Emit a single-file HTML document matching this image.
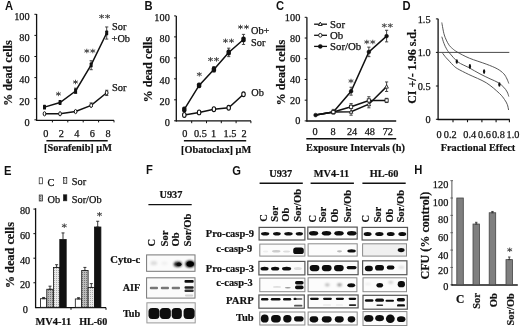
<!DOCTYPE html>
<html><head><meta charset="utf-8"><style>
html,body{margin:0;padding:0;background:#fff;width:520px;height:329px;overflow:hidden}
svg{display:block;will-change:transform}
</style></head><body>
<svg width="520" height="329" viewBox="0 0 520 329">
<rect width="520" height="329" fill="#fff"/>
<text x="5" y="9.6" style='font-family:"Liberation Sans", sans-serif' font-size="11.2" font-weight="bold" text-anchor="start" fill="#111" transform="matrix(1 0 0 1.06 0 -0.576)">A</text>
<line x1="36.6" y1="14" x2="36.6" y2="120.90" stroke="#111" stroke-width="1.3"/>
<line x1="34.4" y1="14.30" x2="36.6" y2="14.30" stroke="#111" stroke-width="1.0"/>
<text x="29.6" y="20.10" style='font-family:"Liberation Serif", serif' font-size="10.3" text-anchor="end" fill="#111" stroke="#111" stroke-width="0.25">100</text>
<line x1="34.4" y1="35.40" x2="36.6" y2="35.40" stroke="#111" stroke-width="1.0"/>
<text x="29.6" y="41.2" style='font-family:"Liberation Serif", serif' font-size="10.3" text-anchor="end" fill="#111" stroke="#111" stroke-width="0.25">80</text>
<line x1="34.4" y1="56.5" x2="36.6" y2="56.5" stroke="#111" stroke-width="1.0"/>
<text x="29.6" y="62.3" style='font-family:"Liberation Serif", serif' font-size="10.3" text-anchor="end" fill="#111" stroke="#111" stroke-width="0.25">60</text>
<line x1="34.4" y1="77.6" x2="36.6" y2="77.6" stroke="#111" stroke-width="1.0"/>
<text x="29.6" y="83.40" style='font-family:"Liberation Serif", serif' font-size="10.3" text-anchor="end" fill="#111" stroke="#111" stroke-width="0.25">40</text>
<line x1="34.4" y1="98.7" x2="36.6" y2="98.7" stroke="#111" stroke-width="1.0"/>
<text x="29.6" y="104.5" style='font-family:"Liberation Serif", serif' font-size="10.3" text-anchor="end" fill="#111" stroke="#111" stroke-width="0.25">20</text>
<line x1="34.4" y1="119.8" x2="36.6" y2="119.8" stroke="#111" stroke-width="1.0"/>
<text x="29.6" y="125.6" style='font-family:"Liberation Serif", serif' font-size="10.3" text-anchor="end" fill="#111" stroke="#111" stroke-width="0.25">0</text>
<line x1="36" y1="120.3" x2="114" y2="120.3" stroke="#111" stroke-width="1.3"/>
<line x1="52.4" y1="120.3" x2="52.4" y2="122.4" stroke="#111" stroke-width="1.0"/>
<line x1="67.8" y1="120.3" x2="67.8" y2="122.4" stroke="#111" stroke-width="1.0"/>
<line x1="83.2" y1="120.3" x2="83.2" y2="122.4" stroke="#111" stroke-width="1.0"/>
<line x1="98.6" y1="120.3" x2="98.6" y2="122.4" stroke="#111" stroke-width="1.0"/>
<line x1="114" y1="120.3" x2="114" y2="122.4" stroke="#111" stroke-width="1.0"/>
<text x="45.8" y="136.8" style='font-family:"Liberation Serif", serif' font-size="10.3" text-anchor="middle" fill="#111" stroke="#111" stroke-width="0.25">0</text>
<text x="61.35" y="136.8" style='font-family:"Liberation Serif", serif' font-size="10.3" text-anchor="middle" fill="#111" stroke="#111" stroke-width="0.25">2</text>
<text x="76.90" y="136.8" style='font-family:"Liberation Serif", serif' font-size="10.3" text-anchor="middle" fill="#111" stroke="#111" stroke-width="0.25">4</text>
<text x="92.45" y="136.8" style='font-family:"Liberation Serif", serif' font-size="10.3" text-anchor="middle" fill="#111" stroke="#111" stroke-width="0.25">6</text>
<text x="108.0" y="136.8" style='font-family:"Liberation Serif", serif' font-size="10.3" text-anchor="middle" fill="#111" stroke="#111" stroke-width="0.25">8</text>
<line x1="46.4" y1="140.8" x2="107.7" y2="140.8" stroke="#111" stroke-width="1.5"/>
<text x="78.0" y="150.9" style='font-family:"Liberation Serif", serif' font-size="10.3" font-weight="bold" text-anchor="middle" fill="#111" stroke="#111" stroke-width="0.2" transform="matrix(1 0 0 1.06 0 -9.054)">[Sorafenib] μM</text>
<text x="11.6" y="73.2" style='font-family:"Liberation Serif", serif' font-size="12.2" font-weight="bold" text-anchor="middle" fill="#111" stroke="#111" stroke-width="0.2" transform="rotate(-90 11.6 73.2)">% dead cells</text>
<polyline points="44.50,113.79 60.05,113.79 75.60,111.57 91.15,105.45 106.70,92.79" fill="none" stroke="#111" stroke-width="1.5"/>
<polyline points="44.50,107.14 60.05,102.50 75.60,91.00 91.15,64.94 106.70,32.97" fill="none" stroke="#111" stroke-width="1.5"/>
<line x1="106.7" y1="26.96" x2="106.7" y2="39.09" stroke="#333" stroke-width="0.9"/>
<line x1="105.10" y1="26.96" x2="108.3" y2="26.96" stroke="#333" stroke-width="0.9"/>
<line x1="105.10" y1="39.09" x2="108.3" y2="39.09" stroke="#333" stroke-width="0.9"/>
<line x1="91.15" y1="60.72" x2="91.15" y2="69.69" stroke="#333" stroke-width="0.9"/>
<line x1="89.55" y1="60.72" x2="92.75" y2="60.72" stroke="#333" stroke-width="0.9"/>
<line x1="89.55" y1="69.69" x2="92.75" y2="69.69" stroke="#333" stroke-width="0.9"/>
<line x1="75.6" y1="88.15" x2="75.6" y2="93.425" stroke="#333" stroke-width="0.9"/>
<line x1="74.0" y1="88.15" x2="77.20" y2="88.15" stroke="#333" stroke-width="0.9"/>
<line x1="74.0" y1="93.425" x2="77.20" y2="93.425" stroke="#333" stroke-width="0.9"/>
<line x1="106.7" y1="90.26" x2="106.7" y2="95.535" stroke="#333" stroke-width="0.9"/>
<line x1="105.10" y1="90.26" x2="108.3" y2="90.26" stroke="#333" stroke-width="0.9"/>
<line x1="105.10" y1="95.535" x2="108.3" y2="95.535" stroke="#333" stroke-width="0.9"/>
<line x1="91.15" y1="102.92" x2="91.15" y2="106.085" stroke="#333" stroke-width="0.9"/>
<line x1="89.55" y1="102.92" x2="92.75" y2="102.92" stroke="#333" stroke-width="0.9"/>
<line x1="89.55" y1="106.085" x2="92.75" y2="106.085" stroke="#333" stroke-width="0.9"/>
<rect x="43.00" y="104.74" width="3.0" height="4.8" rx="0.6" fill="#111"/>
<rect x="58.55" y="100.10" width="3.0" height="4.8" rx="0.6" fill="#111"/>
<rect x="74.10" y="88.60" width="3.0" height="4.8" rx="0.6" fill="#111"/>
<rect x="89.65" y="62.54" width="3.0" height="4.8" rx="0.6" fill="#111"/>
<rect x="105.20" y="30.57" width="3.0" height="4.8" rx="0.6" fill="#111"/>
<ellipse cx="44.50" cy="113.79" rx="1.35" ry="2.1" fill="#fff" stroke="#111" stroke-width="1.0"/>
<ellipse cx="60.05" cy="113.79" rx="1.35" ry="2.1" fill="#fff" stroke="#111" stroke-width="1.0"/>
<ellipse cx="75.60" cy="111.57" rx="1.35" ry="2.1" fill="#fff" stroke="#111" stroke-width="1.0"/>
<ellipse cx="91.15" cy="105.45" rx="1.35" ry="2.1" fill="#fff" stroke="#111" stroke-width="1.0"/>
<ellipse cx="106.70" cy="92.79" rx="1.35" ry="2.1" fill="#fff" stroke="#111" stroke-width="1.0"/>
<path d="M58.40,91.65L58.40,96.15M56.00,92.78L60.80,95.02M60.80,92.78L56.00,95.02" stroke="#444" stroke-width="0.95" fill="none"/>
<path d="M75.50,79.75L75.50,84.25M73.10,80.88L77.90,83.12M77.90,80.88L73.10,83.12" stroke="#444" stroke-width="0.95" fill="none"/>
<path d="M86.80,48.75L86.80,53.25M84.40,49.88L89.20,52.12M89.20,49.88L84.40,52.12" stroke="#444" stroke-width="0.95" fill="none"/>
<path d="M92.80,48.75L92.80,53.25M90.40,49.88L95.20,52.12M95.20,49.88L90.40,52.12" stroke="#444" stroke-width="0.95" fill="none"/>
<path d="M101.60,14.25L101.60,18.75M99.20,15.38L104.00,17.62M104.00,15.38L99.20,17.62" stroke="#444" stroke-width="0.95" fill="none"/>
<path d="M107.60,14.25L107.60,18.75M105.20,15.38L110.00,17.62M110.00,15.38L105.20,17.62" stroke="#444" stroke-width="0.95" fill="none"/>
<text x="112" y="29.5" style='font-family:"Liberation Serif", serif' font-size="10.3" text-anchor="start" fill="#111" stroke="#111" stroke-width="0.25">Sor</text>
<text x="111.6" y="41.6" style='font-family:"Liberation Serif", serif' font-size="10.3" text-anchor="start" fill="#111" stroke="#111" stroke-width="0.25">+Ob</text>
<text x="112.0" y="90.5" style='font-family:"Liberation Serif", serif' font-size="10.5" text-anchor="start" fill="#111" stroke="#111" stroke-width="0.25">Sor</text>
<text x="144.5" y="9.6" style='font-family:"Liberation Sans", sans-serif' font-size="11.2" font-weight="bold" text-anchor="start" fill="#111" transform="matrix(1 0 0 1.06 0 -0.576)">B</text>
<line x1="176.3" y1="15.9" x2="176.3" y2="121.40" stroke="#111" stroke-width="1.3"/>
<line x1="174.10" y1="15.90" x2="176.3" y2="15.90" stroke="#111" stroke-width="1.0"/>
<text x="169.8" y="21.10" style='font-family:"Liberation Serif", serif' font-size="10.3" text-anchor="end" fill="#111" stroke="#111" stroke-width="0.25">100</text>
<line x1="174.10" y1="36.88" x2="176.3" y2="36.88" stroke="#111" stroke-width="1.0"/>
<text x="169.8" y="42.08" style='font-family:"Liberation Serif", serif' font-size="10.3" text-anchor="end" fill="#111" stroke="#111" stroke-width="0.25">80</text>
<line x1="174.10" y1="57.86" x2="176.3" y2="57.86" stroke="#111" stroke-width="1.0"/>
<text x="169.8" y="63.06" style='font-family:"Liberation Serif", serif' font-size="10.3" text-anchor="end" fill="#111" stroke="#111" stroke-width="0.25">60</text>
<line x1="174.10" y1="78.84" x2="176.3" y2="78.84" stroke="#111" stroke-width="1.0"/>
<text x="169.8" y="84.04" style='font-family:"Liberation Serif", serif' font-size="10.3" text-anchor="end" fill="#111" stroke="#111" stroke-width="0.25">40</text>
<line x1="174.10" y1="99.82" x2="176.3" y2="99.82" stroke="#111" stroke-width="1.0"/>
<text x="169.8" y="105.02" style='font-family:"Liberation Serif", serif' font-size="10.3" text-anchor="end" fill="#111" stroke="#111" stroke-width="0.25">20</text>
<line x1="174.10" y1="120.8" x2="176.3" y2="120.8" stroke="#111" stroke-width="1.0"/>
<text x="169.8" y="126.0" style='font-family:"Liberation Serif", serif' font-size="10.3" text-anchor="end" fill="#111" stroke="#111" stroke-width="0.25">0</text>
<line x1="175.8" y1="120.9" x2="251" y2="120.9" stroke="#111" stroke-width="1.3"/>
<line x1="191.70" y1="120.9" x2="191.70" y2="123.2" stroke="#111" stroke-width="1.0"/>
<line x1="206.5" y1="120.9" x2="206.5" y2="123.2" stroke="#111" stroke-width="1.0"/>
<line x1="221.3" y1="120.9" x2="221.3" y2="123.2" stroke="#111" stroke-width="1.0"/>
<line x1="236.10" y1="120.9" x2="236.10" y2="123.2" stroke="#111" stroke-width="1.0"/>
<line x1="250.9" y1="120.9" x2="250.9" y2="123.2" stroke="#111" stroke-width="1.0"/>
<text x="184.9" y="136.8" style='font-family:"Liberation Serif", serif' font-size="10.3" text-anchor="middle" fill="#111" stroke="#111" stroke-width="0.25">0</text>
<text x="200.4" y="136.8" style='font-family:"Liberation Serif", serif' font-size="10.3" text-anchor="middle" fill="#111" stroke="#111" stroke-width="0.25">0.5</text>
<text x="213.5" y="136.8" style='font-family:"Liberation Serif", serif' font-size="10.3" text-anchor="middle" fill="#111" stroke="#111" stroke-width="0.25">1</text>
<text x="230.0" y="136.8" style='font-family:"Liberation Serif", serif' font-size="10.3" text-anchor="middle" fill="#111" stroke="#111" stroke-width="0.25">1.5</text>
<text x="244.2" y="136.8" style='font-family:"Liberation Serif", serif' font-size="10.3" text-anchor="middle" fill="#111" stroke="#111" stroke-width="0.25">2</text>
<line x1="183.9" y1="140.8" x2="246.2" y2="140.8" stroke="#111" stroke-width="1.5"/>
<text x="216.1" y="153.0" style='font-family:"Liberation Serif", serif' font-size="10.3" font-weight="bold" text-anchor="middle" fill="#111" stroke="#111" stroke-width="0.2" transform="matrix(1 0 0 1.06 0 -9.180)">[Obatoclax] μM</text>
<text x="152.1" y="69.7" style='font-family:"Liberation Serif", serif' font-size="12.2" font-weight="bold" text-anchor="middle" fill="#111" stroke="#111" stroke-width="0.2" transform="rotate(-90 152.1 69.7)">% dead cells</text>
<polyline points="184.30,114.94 199.10,112.40 213.90,109.22 228.70,107.73 243.50,94.27" fill="none" stroke="#111" stroke-width="1.5"/>
<polyline points="184.30,109.43 199.10,85.37 213.90,69.47 228.70,52.51 243.50,39.47" fill="none" stroke="#111" stroke-width="1.5"/>
<line x1="243.5" y1="34.38" x2="243.5" y2="44.45" stroke="#333" stroke-width="0.9"/>
<line x1="241.9" y1="34.38" x2="245.1" y2="34.38" stroke="#333" stroke-width="0.9"/>
<line x1="241.9" y1="44.45" x2="245.1" y2="44.45" stroke="#333" stroke-width="0.9"/>
<line x1="228.70" y1="48.16" x2="228.70" y2="56.64" stroke="#333" stroke-width="0.9"/>
<line x1="227.10" y1="48.16" x2="230.3" y2="48.16" stroke="#333" stroke-width="0.9"/>
<line x1="227.10" y1="56.64" x2="230.3" y2="56.64" stroke="#333" stroke-width="0.9"/>
<line x1="213.9" y1="66.71" x2="213.9" y2="72.01" stroke="#333" stroke-width="0.9"/>
<line x1="212.3" y1="66.71" x2="215.5" y2="66.71" stroke="#333" stroke-width="0.9"/>
<line x1="212.3" y1="72.01" x2="215.5" y2="72.01" stroke="#333" stroke-width="0.9"/>
<rect x="182.10" y="106.53" width="4.4" height="5.8" rx="1.9" fill="#111"/>
<rect x="196.90" y="82.47" width="4.4" height="5.8" rx="1.9" fill="#111"/>
<rect x="211.70" y="66.57" width="4.4" height="5.8" rx="1.9" fill="#111"/>
<rect x="226.50" y="49.61" width="4.4" height="5.8" rx="1.9" fill="#111"/>
<rect x="241.30" y="36.57" width="4.4" height="5.8" rx="1.9" fill="#111"/>
<ellipse cx="184.30" cy="114.94" rx="1.75" ry="2.4" fill="#fff" stroke="#111" stroke-width="1.1"/>
<ellipse cx="199.10" cy="112.40" rx="1.75" ry="2.4" fill="#fff" stroke="#111" stroke-width="1.1"/>
<ellipse cx="213.90" cy="109.22" rx="1.75" ry="2.4" fill="#fff" stroke="#111" stroke-width="1.1"/>
<ellipse cx="228.70" cy="107.73" rx="1.75" ry="2.4" fill="#fff" stroke="#111" stroke-width="1.1"/>
<ellipse cx="243.50" cy="94.27" rx="1.75" ry="2.4" fill="#fff" stroke="#111" stroke-width="1.1"/>
<path d="M199.30,72.05L199.30,76.55M196.90,73.18L201.70,75.42M201.70,73.18L196.90,75.42" stroke="#444" stroke-width="0.95" fill="none"/>
<path d="M210.50,57.15L210.50,61.65M208.10,58.28L212.90,60.52M212.90,58.28L208.10,60.52" stroke="#444" stroke-width="0.95" fill="none"/>
<path d="M216.50,57.15L216.50,61.65M214.10,58.28L218.90,60.52M218.90,58.28L214.10,60.52" stroke="#444" stroke-width="0.95" fill="none"/>
<path d="M225.50,38.55L225.50,43.05M223.10,39.68L227.90,41.92M227.90,39.68L223.10,41.92" stroke="#444" stroke-width="0.95" fill="none"/>
<path d="M231.50,38.55L231.50,43.05M229.10,39.68L233.90,41.92M233.90,39.68L229.10,41.92" stroke="#444" stroke-width="0.95" fill="none"/>
<path d="M240.50,24.75L240.50,29.25M238.10,25.88L242.90,28.12M242.90,25.88L238.10,28.12" stroke="#444" stroke-width="0.95" fill="none"/>
<path d="M246.50,24.75L246.50,29.25M244.10,25.88L248.90,28.12M248.90,25.88L244.10,28.12" stroke="#444" stroke-width="0.95" fill="none"/>
<text x="251" y="34" style='font-family:"Liberation Serif", serif' font-size="10.3" text-anchor="start" fill="#111" stroke="#111" stroke-width="0.25">Ob+</text>
<text x="251" y="46.3" style='font-family:"Liberation Serif", serif' font-size="10.3" text-anchor="start" fill="#111" stroke="#111" stroke-width="0.25">Sor</text>
<text x="251.3" y="96.0" style='font-family:"Liberation Serif", serif' font-size="10.3" text-anchor="start" fill="#111" stroke="#111" stroke-width="0.25">Ob</text>
<text x="276" y="9.6" style='font-family:"Liberation Sans", sans-serif' font-size="11.2" font-weight="bold" text-anchor="start" fill="#111" transform="matrix(1 0 0 1.06 0 -0.576)">C</text>
<line x1="306.9" y1="17.3" x2="306.9" y2="121.5" stroke="#111" stroke-width="1.3"/>
<line x1="304.7" y1="17.30" x2="306.9" y2="17.30" stroke="#111" stroke-width="1.0"/>
<text x="300.3" y="20.80" style='font-family:"Liberation Serif", serif' font-size="10.3" text-anchor="end" fill="#111" stroke="#111" stroke-width="0.25">100</text>
<line x1="304.7" y1="38.02" x2="306.9" y2="38.02" stroke="#111" stroke-width="1.0"/>
<text x="300.3" y="41.52" style='font-family:"Liberation Serif", serif' font-size="10.3" text-anchor="end" fill="#111" stroke="#111" stroke-width="0.25">80</text>
<line x1="304.7" y1="58.74" x2="306.9" y2="58.74" stroke="#111" stroke-width="1.0"/>
<text x="300.3" y="62.24" style='font-family:"Liberation Serif", serif' font-size="10.3" text-anchor="end" fill="#111" stroke="#111" stroke-width="0.25">60</text>
<line x1="304.7" y1="79.46" x2="306.9" y2="79.46" stroke="#111" stroke-width="1.0"/>
<text x="300.3" y="82.96" style='font-family:"Liberation Serif", serif' font-size="10.3" text-anchor="end" fill="#111" stroke="#111" stroke-width="0.25">40</text>
<line x1="304.7" y1="100.18" x2="306.9" y2="100.18" stroke="#111" stroke-width="1.0"/>
<text x="300.3" y="103.68" style='font-family:"Liberation Serif", serif' font-size="10.3" text-anchor="end" fill="#111" stroke="#111" stroke-width="0.25">20</text>
<line x1="304.7" y1="120.9" x2="306.9" y2="120.9" stroke="#111" stroke-width="1.0"/>
<text x="300.3" y="124.4" style='font-family:"Liberation Serif", serif' font-size="10.3" text-anchor="end" fill="#111" stroke="#111" stroke-width="0.25">0</text>
<line x1="306.4" y1="121.0" x2="396.2" y2="121.0" stroke="#111" stroke-width="1.3"/>
<text x="315.1" y="135.1" style='font-family:"Liberation Serif", serif' font-size="10.3" text-anchor="middle" fill="#111" stroke="#111" stroke-width="0.25">0</text>
<text x="333.2" y="135.1" style='font-family:"Liberation Serif", serif' font-size="10.3" text-anchor="middle" fill="#111" stroke="#111" stroke-width="0.25">8</text>
<text x="352.1" y="135.1" style='font-family:"Liberation Serif", serif' font-size="10.3" text-anchor="middle" fill="#111" stroke="#111" stroke-width="0.25">24</text>
<text x="369.8" y="135.1" style='font-family:"Liberation Serif", serif' font-size="10.3" text-anchor="middle" fill="#111" stroke="#111" stroke-width="0.25">48</text>
<text x="387.8" y="135.1" style='font-family:"Liberation Serif", serif' font-size="10.3" text-anchor="middle" fill="#111" stroke="#111" stroke-width="0.25">72</text>
<line x1="306.3" y1="138.7" x2="396.2" y2="138.7" stroke="#111" stroke-width="1.5"/>
<text x="355.5" y="150.6" style='font-family:"Liberation Serif", serif' font-size="10.3" font-weight="bold" text-anchor="middle" fill="#111" stroke="#111" stroke-width="0.2" transform="matrix(1 0 0 1.06 0 -9.036)">Exposure Intervals (h)</text>
<text x="285.0" y="72.6" style='font-family:"Liberation Serif", serif' font-size="12.2" font-weight="bold" text-anchor="middle" fill="#111" stroke="#111" stroke-width="0.2" transform="rotate(-90 285.0 72.6)">% dead cells</text>
<polyline points="315.60,115.09 333.35,112.03 351.10,106.76 368.85,100.43 386.60,100.43" fill="none" stroke="#111" stroke-width="1.5"/>
<polyline points="315.60,115.09 333.35,112.03 351.10,111.72 368.85,104.23 386.60,86.61" fill="none" stroke="#111" stroke-width="1.5"/>
<polyline points="315.60,115.09 333.35,112.03 351.10,91.25 368.85,51.90 386.60,36.07" fill="none" stroke="#111" stroke-width="1.5"/>
<line x1="351.1" y1="87.24" x2="351.1" y2="95.15" stroke="#333" stroke-width="0.9"/>
<line x1="349.5" y1="87.24" x2="352.70" y2="87.24" stroke="#333" stroke-width="0.9"/>
<line x1="349.5" y1="95.15" x2="352.70" y2="95.15" stroke="#333" stroke-width="0.9"/>
<line x1="368.85" y1="47.15" x2="368.85" y2="56.65" stroke="#333" stroke-width="0.9"/>
<line x1="367.25" y1="47.15" x2="370.45" y2="47.15" stroke="#333" stroke-width="0.9"/>
<line x1="367.25" y1="56.65" x2="370.45" y2="56.65" stroke="#333" stroke-width="0.9"/>
<line x1="386.6" y1="30.27" x2="386.6" y2="41.875" stroke="#333" stroke-width="0.9"/>
<line x1="385.0" y1="30.27" x2="388.20" y2="30.27" stroke="#333" stroke-width="0.9"/>
<line x1="385.0" y1="41.875" x2="388.20" y2="41.875" stroke="#333" stroke-width="0.9"/>
<line x1="386.6" y1="81.965" x2="386.6" y2="91.46" stroke="#333" stroke-width="0.9"/>
<line x1="385.0" y1="81.965" x2="388.20" y2="81.965" stroke="#333" stroke-width="0.9"/>
<line x1="385.0" y1="91.46" x2="388.20" y2="91.46" stroke="#333" stroke-width="0.9"/>
<line x1="368.85" y1="96.735" x2="368.85" y2="107.81" stroke="#333" stroke-width="0.9"/>
<line x1="367.25" y1="96.735" x2="370.45" y2="96.735" stroke="#333" stroke-width="0.9"/>
<line x1="367.25" y1="107.81" x2="370.45" y2="107.81" stroke="#333" stroke-width="0.9"/>
<line x1="351.1" y1="103.59" x2="351.1" y2="115.20" stroke="#333" stroke-width="0.9"/>
<line x1="349.5" y1="103.59" x2="352.70" y2="103.59" stroke="#333" stroke-width="0.9"/>
<line x1="349.5" y1="115.20" x2="352.70" y2="115.20" stroke="#333" stroke-width="0.9"/>
<line x1="386.6" y1="98.32" x2="386.6" y2="102.54" stroke="#333" stroke-width="0.9"/>
<line x1="385.0" y1="98.32" x2="388.20" y2="98.32" stroke="#333" stroke-width="0.9"/>
<line x1="385.0" y1="102.54" x2="388.20" y2="102.54" stroke="#333" stroke-width="0.9"/>
<line x1="333.35" y1="109.395" x2="333.35" y2="114.14" stroke="#333" stroke-width="0.9"/>
<line x1="331.75" y1="109.395" x2="334.95" y2="109.395" stroke="#333" stroke-width="0.9"/>
<line x1="331.75" y1="114.14" x2="334.95" y2="114.14" stroke="#333" stroke-width="0.9"/>
<polygon points="333.35,110.13 331.55,113.55 335.16,113.55" fill="#fff" stroke="#111" stroke-width="0.8"/>
<polygon points="351.10,109.82 349.30,113.24 352.91,113.24" fill="#fff" stroke="#111" stroke-width="0.8"/>
<polygon points="368.85,102.33 367.05,105.75 370.66,105.75" fill="#fff" stroke="#111" stroke-width="0.8"/>
<polygon points="386.60,84.71 384.80,88.13 388.41,88.13" fill="#fff" stroke="#111" stroke-width="0.8"/>
<rect x="331.75" y="110.43" width="3.2" height="3.2" fill="#fff" stroke="#111" stroke-width="0.8"/>
<rect x="349.5" y="105.16" width="3.2" height="3.2" fill="#fff" stroke="#111" stroke-width="0.8"/>
<rect x="367.25" y="98.83" width="3.2" height="3.2" fill="#fff" stroke="#111" stroke-width="0.8"/>
<rect x="385.0" y="98.83" width="3.2" height="3.2" fill="#fff" stroke="#111" stroke-width="0.8"/>
<circle cx="315.6" cy="115.092" r="1.9" fill="#111" stroke="#111" stroke-width="0.5"/>
<circle cx="351.1" cy="91.249" r="1.9" fill="#111" stroke="#111" stroke-width="0.5"/>
<circle cx="368.85" cy="51.90" r="1.9" fill="#111" stroke="#111" stroke-width="0.5"/>
<circle cx="386.6" cy="36.07" r="1.9" fill="#111" stroke="#111" stroke-width="0.5"/>
<path d="M351.00,78.75L351.00,83.25M348.60,79.88L353.40,82.12M353.40,79.88L348.60,82.12" stroke="#444" stroke-width="0.95" fill="none"/>
<path d="M366.80,39.75L366.80,44.25M364.40,40.88L369.20,43.12M369.20,40.88L364.40,43.12" stroke="#444" stroke-width="0.95" fill="none"/>
<path d="M372.80,39.75L372.80,44.25M370.40,40.88L375.20,43.12M375.20,40.88L370.40,43.12" stroke="#444" stroke-width="0.95" fill="none"/>
<path d="M384.30,23.25L384.30,27.75M381.90,24.38L386.70,26.62M386.70,24.38L381.90,26.62" stroke="#444" stroke-width="0.95" fill="none"/>
<path d="M390.30,23.25L390.30,27.75M387.90,24.38L392.70,26.62M392.70,24.38L387.90,26.62" stroke="#444" stroke-width="0.95" fill="none"/>
<line x1="314.1" y1="24.2" x2="327.0" y2="24.2" stroke="#111" stroke-width="1.3"/>
<polygon points="320.3,22.10 318.4,25.50 322.2,25.50" fill="#fff" stroke="#111" stroke-width="0.9"/>
<text x="330.0" y="27.8" style='font-family:"Liberation Serif", serif' font-size="10.8" text-anchor="start" fill="#111" stroke="#111" stroke-width="0.25">Sor</text>
<line x1="314.1" y1="35.3" x2="327.0" y2="35.3" stroke="#111" stroke-width="1.3"/>
<ellipse cx="320.3" cy="35.30" rx="1.7" ry="1.9" fill="#fff" stroke="#111" stroke-width="0.9"/>
<text x="330.0" y="38.9" style='font-family:"Liberation Serif", serif' font-size="10.8" text-anchor="start" fill="#111" stroke="#111" stroke-width="0.25">Ob</text>
<line x1="314.1" y1="46.4" x2="327.0" y2="46.4" stroke="#111" stroke-width="1.3"/>
<circle cx="320.3" cy="46.4" r="2.0" fill="#111" stroke="#111" stroke-width="0.5"/>
<text x="330.0" y="50.0" style='font-family:"Liberation Serif", serif' font-size="10.8" text-anchor="start" fill="#111" stroke="#111" stroke-width="0.25">Sor/Ob</text>
<text x="402.5" y="9.6" style='font-family:"Liberation Sans", sans-serif' font-size="11.2" font-weight="bold" text-anchor="start" fill="#111" transform="matrix(1 0 0 1.06 0 -0.576)">D</text>
<line x1="438.1" y1="18.8" x2="438.1" y2="119.90" stroke="#111" stroke-width="1.3"/>
<line x1="435.90" y1="18.9" x2="438.1" y2="18.9" stroke="#111" stroke-width="1.0"/>
<text x="430.6" y="22.9" style='font-family:"Liberation Serif", serif' font-size="10.3" text-anchor="end" fill="#111" stroke="#111" stroke-width="0.25">1.5</text>
<line x1="435.90" y1="52.4" x2="438.1" y2="52.4" stroke="#111" stroke-width="1.0"/>
<text x="430.6" y="56.4" style='font-family:"Liberation Serif", serif' font-size="10.3" text-anchor="end" fill="#111" stroke="#111" stroke-width="0.25">1.0</text>
<line x1="435.90" y1="86.0" x2="438.1" y2="86.0" stroke="#111" stroke-width="1.0"/>
<text x="430.6" y="90.0" style='font-family:"Liberation Serif", serif' font-size="10.3" text-anchor="end" fill="#111" stroke="#111" stroke-width="0.25">0.5</text>
<line x1="435.90" y1="119.3" x2="438.1" y2="119.3" stroke="#111" stroke-width="1.0"/>
<text x="430.6" y="123.3" style='font-family:"Liberation Serif", serif' font-size="10.3" text-anchor="end" fill="#111" stroke="#111" stroke-width="0.25">0</text>
<line x1="437.6" y1="119.5" x2="509.8" y2="119.5" stroke="#111" stroke-width="1.3"/>
<line x1="453" y1="119.5" x2="453" y2="122.2" stroke="#111" stroke-width="1.1"/>
<line x1="467.5" y1="119.5" x2="467.5" y2="122.2" stroke="#111" stroke-width="1.1"/>
<line x1="481.9" y1="119.5" x2="481.9" y2="122.2" stroke="#111" stroke-width="1.1"/>
<line x1="496.1" y1="119.5" x2="496.1" y2="122.2" stroke="#111" stroke-width="1.1"/>
<line x1="509.4" y1="119.5" x2="509.4" y2="122.2" stroke="#111" stroke-width="1.1"/>
<text x="439.1" y="137.7" style='font-family:"Liberation Serif", serif' font-size="10.3" text-anchor="middle" fill="#111" stroke="#111" stroke-width="0.25">0</text>
<text x="450.3" y="137.7" style='font-family:"Liberation Serif", serif' font-size="10.3" text-anchor="middle" fill="#111" stroke="#111" stroke-width="0.25">0.2</text>
<text x="469.8" y="137.7" style='font-family:"Liberation Serif", serif' font-size="10.3" text-anchor="middle" fill="#111" stroke="#111" stroke-width="0.25">0.4</text>
<text x="484.5" y="137.7" style='font-family:"Liberation Serif", serif' font-size="10.3" text-anchor="middle" fill="#111" stroke="#111" stroke-width="0.25">0.6</text>
<text x="498.4" y="137.7" style='font-family:"Liberation Serif", serif' font-size="10.3" text-anchor="middle" fill="#111" stroke="#111" stroke-width="0.25">0.8</text>
<text x="513" y="137.7" style='font-family:"Liberation Serif", serif' font-size="10.3" text-anchor="middle" fill="#111" stroke="#111" stroke-width="0.25">1.0</text>
<text x="478" y="151.3" style='font-family:"Liberation Serif", serif' font-size="10.3" font-weight="bold" text-anchor="middle" fill="#111" stroke="#111" stroke-width="0.2" transform="matrix(1 0 0 1.06 0 -9.078)">Fractional Effect</text>
<text x="416.2" y="66.4" style='font-family:"Liberation Serif", serif' font-size="12.0" font-weight="bold" text-anchor="middle" fill="#111" stroke="#111" stroke-width="0.2" transform="rotate(-90 416.2 66.4)">CI +/- 1.96 s.d.</text>
<line x1="438.1" y1="52.4" x2="509.3" y2="52.4" stroke="#333" stroke-width="0.9"/>
<path d="M441.80,22.50 C442.22,24.58 443.18,31.38 444.30,35.00 C445.42,38.62 447.13,41.93 448.50,44.20 C449.87,46.47 451.00,47.27 452.50,48.60 C454.00,49.93 454.68,50.60 457.50,52.20 C460.32,53.80 464.62,56.22 469.40,58.20 C474.18,60.18 481.57,62.33 486.20,64.10 C490.83,65.87 494.27,67.18 497.20,68.80 C500.13,70.42 502.17,72.10 503.80,73.80 C505.43,75.50 506.17,77.38 507.00,79.00 C507.83,80.62 508.50,82.75 508.80,83.50" fill="none" stroke="#444" stroke-width="0.9"/>
<path d="M441.80,36.70 C442.17,37.83 443.22,41.48 444.00,43.50 C444.78,45.52 445.58,47.22 446.50,48.80 C447.42,50.38 447.60,50.82 449.50,53.00 C451.40,55.18 454.68,59.47 457.90,61.90 C461.12,64.33 465.12,65.60 468.80,67.60 C472.48,69.60 476.47,72.03 480.00,73.90 C483.53,75.77 486.97,77.35 490.00,78.80 C493.03,80.25 495.90,81.18 498.20,82.60 C500.50,84.02 502.30,85.73 503.80,87.30 C505.30,88.87 506.37,90.47 507.20,92.00 C508.03,93.53 508.53,95.75 508.80,96.50" fill="none" stroke="#444" stroke-width="0.9"/>
<path d="M442.60,53.20 C443.13,53.90 444.67,56.07 445.80,57.40 C446.93,58.73 448.12,59.83 449.40,61.20 C450.68,62.57 452.12,64.33 453.50,65.60 C454.88,66.87 455.15,67.32 457.70,68.80 C460.25,70.28 464.03,72.17 468.80,74.50 C473.57,76.83 481.20,79.65 486.30,82.80 C491.40,85.95 496.37,90.62 499.40,93.40 C502.43,96.18 503.18,97.65 504.50,99.50 C505.82,101.35 506.62,102.75 507.30,104.50 C507.98,106.25 508.38,109.08 508.60,110.00" fill="none" stroke="#444" stroke-width="0.9"/>
<ellipse cx="456.8" cy="61.5" rx="1.15" ry="2.3" fill="#111"/>
<ellipse cx="469.9" cy="66.4" rx="1.15" ry="2.3" fill="#111"/>
<ellipse cx="484.1" cy="71.6" rx="1.15" ry="2.3" fill="#111"/>
<ellipse cx="499.4" cy="84.5" rx="1.15" ry="2.3" fill="#111"/>
<text x="3.9" y="175.2" style='font-family:"Liberation Sans", sans-serif' font-size="11.2" font-weight="bold" text-anchor="start" fill="#111" transform="matrix(1 0 0 1.06 0 -10.512)">E</text>
<line x1="35.6" y1="208.2" x2="35.6" y2="308.20" stroke="#111" stroke-width="1.3"/>
<line x1="33.4" y1="209.10" x2="35.6" y2="209.10" stroke="#111" stroke-width="1.0"/>
<text x="30.2" y="214.40" style='font-family:"Liberation Serif", serif' font-size="10.3" text-anchor="end" fill="#111" stroke="#111" stroke-width="0.25">80</text>
<line x1="33.4" y1="233.65" x2="35.6" y2="233.65" stroke="#111" stroke-width="1.0"/>
<text x="30.2" y="238.95" style='font-family:"Liberation Serif", serif' font-size="10.3" text-anchor="end" fill="#111" stroke="#111" stroke-width="0.25">60</text>
<line x1="33.4" y1="258.2" x2="35.6" y2="258.2" stroke="#111" stroke-width="1.0"/>
<text x="30.2" y="263.5" style='font-family:"Liberation Serif", serif' font-size="10.3" text-anchor="end" fill="#111" stroke="#111" stroke-width="0.25">40</text>
<line x1="33.4" y1="282.75" x2="35.6" y2="282.75" stroke="#111" stroke-width="1.0"/>
<text x="30.2" y="288.05" style='font-family:"Liberation Serif", serif' font-size="10.3" text-anchor="end" fill="#111" stroke="#111" stroke-width="0.25">20</text>
<text x="28.0" y="312.8" style='font-family:"Liberation Serif", serif' font-size="10.3" text-anchor="end" fill="#111" stroke="#111" stroke-width="0.25">0</text>
<line x1="35.8" y1="307.6" x2="106" y2="307.6" stroke="#111" stroke-width="1.3"/>
<line x1="71" y1="307.6" x2="71" y2="309.8" stroke="#111" stroke-width="1.0"/>
<line x1="106" y1="307.6" x2="106" y2="309.8" stroke="#111" stroke-width="1.0"/>
<text x="53.3" y="324.6" style='font-family:"Liberation Serif", serif' font-size="10.4" font-weight="bold" text-anchor="middle" fill="#111" stroke="#111" stroke-width="0.2" transform="matrix(1 0 0 1.06 0 -19.476)">MV4-11</text>
<text x="93.2" y="324.6" style='font-family:"Liberation Serif", serif' font-size="10.1" font-weight="bold" text-anchor="middle" fill="#111" stroke="#111" stroke-width="0.2" transform="matrix(1 0 0 1.06 0 -19.476)">HL-60</text>
<text x="14.1" y="255.2" style='font-family:"Liberation Serif", serif' font-size="12.3" font-weight="bold" text-anchor="middle" fill="#111" stroke="#111" stroke-width="0.2" transform="rotate(-90 14.1 255.2)">% dead cells</text>
<defs><pattern id="pL" width="2" height="2" patternUnits="userSpaceOnUse"><rect width="2" height="2" fill="#e8e8e8"/><rect width="1" height="1" fill="#aaa"/></pattern><pattern id="pD" width="2" height="2" patternUnits="userSpaceOnUse"><rect width="2" height="2" fill="#bbb"/><rect width="1" height="1" fill="#777"/></pattern></defs>
<rect x="40.4" y="298.71" width="6.4" height="8.59" fill="#fff" stroke="#111" stroke-width="0.8"/>
<line x1="43.6" y1="297.48" x2="43.6" y2="298.71" stroke="#222" stroke-width="0.9"/>
<line x1="42.1" y1="297.48" x2="45.1" y2="297.48" stroke="#222" stroke-width="0.9"/>
<line x1="42.1" y1="298.71" x2="45.1" y2="298.71" stroke="#222" stroke-width="0.9"/>
<rect x="46.8" y="289.26" width="6.4" height="18.04" fill="url(#pD)" stroke="#111" stroke-width="0.8"/>
<line x1="50.0" y1="286.187" x2="50.0" y2="289.26" stroke="#222" stroke-width="0.9"/>
<line x1="48.5" y1="286.187" x2="51.5" y2="286.187" stroke="#222" stroke-width="0.9"/>
<line x1="48.5" y1="289.26" x2="51.5" y2="289.26" stroke="#222" stroke-width="0.9"/>
<rect x="53.4" y="267.41" width="6.4" height="39.89" fill="url(#pL)" stroke="#111" stroke-width="0.8"/>
<line x1="56.6" y1="264.71" x2="56.6" y2="267.41" stroke="#222" stroke-width="0.9"/>
<line x1="55.1" y1="264.71" x2="58.1" y2="264.71" stroke="#222" stroke-width="0.9"/>
<line x1="55.1" y1="267.41" x2="58.1" y2="267.41" stroke="#222" stroke-width="0.9"/>
<rect x="59.8" y="239.542" width="6.4" height="67.76" fill="#111" stroke="#111" stroke-width="0.8"/>
<line x1="63.0" y1="232.91" x2="63.0" y2="239.542" stroke="#222" stroke-width="0.9"/>
<line x1="61.5" y1="232.91" x2="64.5" y2="232.91" stroke="#222" stroke-width="0.9"/>
<line x1="61.5" y1="239.542" x2="64.5" y2="239.542" stroke="#222" stroke-width="0.9"/>
<rect x="75.3" y="298.95" width="6.4" height="8.35" fill="#fff" stroke="#111" stroke-width="0.8"/>
<line x1="78.5" y1="297.73" x2="78.5" y2="298.95" stroke="#222" stroke-width="0.9"/>
<line x1="77.0" y1="297.73" x2="80.0" y2="297.73" stroke="#222" stroke-width="0.9"/>
<line x1="77.0" y1="298.95" x2="80.0" y2="298.95" stroke="#222" stroke-width="0.9"/>
<rect x="81.7" y="270.475" width="6.4" height="36.82" fill="url(#pD)" stroke="#111" stroke-width="0.8"/>
<line x1="84.9" y1="267.41" x2="84.9" y2="270.475" stroke="#222" stroke-width="0.9"/>
<line x1="83.4" y1="267.41" x2="86.4" y2="267.41" stroke="#222" stroke-width="0.9"/>
<line x1="83.4" y1="270.475" x2="86.4" y2="270.475" stroke="#222" stroke-width="0.9"/>
<rect x="88.1" y="287.41" width="6.4" height="19.89" fill="url(#pL)" stroke="#111" stroke-width="0.8"/>
<line x1="91.3" y1="283.61" x2="91.3" y2="287.41" stroke="#222" stroke-width="0.9"/>
<line x1="89.8" y1="283.61" x2="92.8" y2="283.61" stroke="#222" stroke-width="0.9"/>
<line x1="89.8" y1="287.41" x2="92.8" y2="287.41" stroke="#222" stroke-width="0.9"/>
<rect x="94.5" y="227.02" width="6.4" height="80.28" fill="#111" stroke="#111" stroke-width="0.8"/>
<line x1="97.7" y1="221.25" x2="97.7" y2="227.02" stroke="#222" stroke-width="0.9"/>
<line x1="96.2" y1="221.25" x2="99.2" y2="221.25" stroke="#222" stroke-width="0.9"/>
<line x1="96.2" y1="227.02" x2="99.2" y2="227.02" stroke="#222" stroke-width="0.9"/>
<path d="M64.30,223.45L64.30,227.95M61.90,224.58L66.70,226.82M66.70,224.58L61.90,226.82" stroke="#444" stroke-width="0.95" fill="none"/>
<path d="M99.50,212.05L99.50,216.55M97.10,213.18L101.90,215.42M101.90,213.18L97.10,215.42" stroke="#444" stroke-width="0.95" fill="none"/>
<rect x="39.2" y="177.8" width="3.3" height="6.0" fill="#fff" stroke="#222" stroke-width="0.7"/>
<text x="47.5" y="185.60" style='font-family:"Liberation Serif", serif' font-size="10.3" text-anchor="start" fill="#111" stroke="#111" stroke-width="0.25">C</text>
<rect x="63.5" y="177.6" width="3.3" height="6.0" fill="url(#pL)" stroke="#222" stroke-width="0.7"/>
<text x="71.8" y="185.4" style='font-family:"Liberation Serif", serif' font-size="10.3" text-anchor="start" fill="#111" stroke="#111" stroke-width="0.25">Sor</text>
<rect x="39.2" y="195.0" width="3.3" height="6.0" fill="url(#pD)" stroke="#222" stroke-width="0.7"/>
<text x="47.5" y="202.8" style='font-family:"Liberation Serif", serif' font-size="10.3" text-anchor="start" fill="#111" stroke="#111" stroke-width="0.25">Ob</text>
<rect x="63.5" y="194.8" width="3.3" height="6.0" fill="#111" stroke="#222" stroke-width="0.7"/>
<text x="71.8" y="202.60" style='font-family:"Liberation Serif", serif' font-size="10.3" text-anchor="start" fill="#111" stroke="#111" stroke-width="0.25">Sor/Ob</text>
<defs><filter id="bl" x="-30%" y="-60%" width="160%" height="220%"><feGaussianBlur stdDeviation="0.45"/></filter><filter id="bl2" x="-30%" y="-60%" width="160%" height="220%"><feGaussianBlur stdDeviation="0.8"/></filter></defs>
<text x="146" y="174.3" style='font-family:"Liberation Sans", sans-serif' font-size="11.2" font-weight="bold" text-anchor="start" fill="#111" transform="matrix(1 0 0 1.06 0 -10.458)">F</text>
<text x="170.9" y="197.8" style='font-family:"Liberation Serif", serif' font-size="10.3" font-weight="bold" text-anchor="middle" fill="#111" stroke="#111" stroke-width="0.2" transform="matrix(1 0 0 1.06 0 -11.868)">U937</text>
<line x1="148.4" y1="204.6" x2="191.7" y2="204.6" stroke="#111" stroke-width="1.4"/>
<text x="155.2" y="246.4" style='font-family:"Liberation Serif", serif' font-size="10.5" font-weight="bold" text-anchor="start" fill="#111" stroke="#111" stroke-width="0.2" transform="rotate(-90 155.2 246.4)">C</text>
<text x="167.9" y="246.4" style='font-family:"Liberation Serif", serif' font-size="10.5" font-weight="bold" text-anchor="start" fill="#111" stroke="#111" stroke-width="0.2" transform="rotate(-90 167.9 246.4)">Sor</text>
<text x="178.8" y="246.4" style='font-family:"Liberation Serif", serif' font-size="10.5" font-weight="bold" text-anchor="start" fill="#111" stroke="#111" stroke-width="0.2" transform="rotate(-90 178.8 246.4)">Ob</text>
<text x="190.8" y="246.4" style='font-family:"Liberation Serif", serif' font-size="10.5" font-weight="bold" text-anchor="start" fill="#111" stroke="#111" stroke-width="0.2" transform="rotate(-90 190.8 246.4)">Sor/Ob</text>
<text x="140.3" y="263.5" style='font-family:"Liberation Serif", serif' font-size="10.6" font-weight="bold" text-anchor="end" fill="#111" stroke="#111" stroke-width="0.2" transform="matrix(1 0 0 1.06 0 -15.810)">Cyto-c</text>
<text x="140.3" y="290.9" style='font-family:"Liberation Serif", serif' font-size="10.2" font-weight="bold" text-anchor="end" fill="#111" stroke="#111" stroke-width="0.2" transform="matrix(1 0 0 1.06 0 -17.454)">AIF</text>
<text x="140.3" y="316.8" style='font-family:"Liberation Serif", serif' font-size="10.3" font-weight="bold" text-anchor="end" fill="#111" stroke="#111" stroke-width="0.2" transform="matrix(1 0 0 1.06 0 -19.008)">Tub</text>
<rect x="146.6" y="254.9" width="48.4" height="16.4" fill="#fbfbfb" stroke="#777" stroke-width="1.0"/>
<ellipse cx="153.85" cy="263.10" rx="3.35" ry="2.20" fill="#dcdcdc" filter="url(#bl2)"/>
<ellipse cx="164.50" cy="263.25" rx="3.00" ry="1.75" fill="#f0f0f0" filter="url(#bl2)"/>
<ellipse cx="177.80" cy="264.30" rx="4.00" ry="2.70" fill="#222" filter="url(#bl2)"/>
<ellipse cx="179.00" cy="264.35" rx="2.50" ry="1.85" fill="#111" filter="url(#bl)"/>
<ellipse cx="189.90" cy="264.05" rx="4.50" ry="3.55" fill="#0a0a0a" filter="url(#bl2)"/>
<ellipse cx="190.25" cy="264.05" rx="3.75" ry="2.75" fill="#000" filter="url(#bl)"/>
<rect x="146.6" y="277.8" width="48.4" height="20.3" fill="#fbfbfb" stroke="#777" stroke-width="1.0"/>
<rect x="149.8" y="286.8" width="8.20" height="2.40" rx="1.0" fill="#777" filter="url(#bl)"/>
<rect x="160.8" y="286.8" width="8.20" height="2.40" rx="1.0" fill="#777" filter="url(#bl)"/>
<rect x="171.7" y="286.8" width="8.30" height="2.40" rx="1.0" fill="#777" filter="url(#bl)"/>
<rect x="184.5" y="280.0" width="9.20" height="2.70" rx="1.0" fill="#111" filter="url(#bl)"/>
<rect x="184.5" y="286.3" width="9.20" height="2.40" rx="1.0" fill="#222" filter="url(#bl)"/>
<rect x="184.5" y="289.6" width="9.20" height="2.40" rx="1.0" fill="#333" filter="url(#bl)"/>
<rect x="185" y="294.6" width="8.20" height="1.80" rx="0.8" fill="#d0d0d0" filter="url(#bl)"/>
<rect x="146.9" y="302.8" width="48.3" height="20.1" fill="#f8f8f8" stroke="#999" stroke-width="1.0"/>
<rect x="148.5" y="308.0" width="11.00" height="10.90" rx="3.6" fill="#080808" filter="url(#bl)"/>
<rect x="159.9" y="308.0" width="10.90" height="10.90" rx="3.6" fill="#080808" filter="url(#bl)"/>
<rect x="171.7" y="308.0" width="10.10" height="10.90" rx="3.6" fill="#080808" filter="url(#bl)"/>
<rect x="183.6" y="308.0" width="11.00" height="10.90" rx="3.6" fill="#080808" filter="url(#bl)"/>
<text x="232.3" y="174.9" style='font-family:"Liberation Sans", sans-serif' font-size="11.2" font-weight="bold" text-anchor="start" fill="#111" transform="matrix(1 0 0 1.06 0 -10.494)">G</text>
<text x="280.8" y="176.8" style='font-family:"Liberation Serif", serif' font-size="10.3" font-weight="bold" text-anchor="middle" fill="#111" stroke="#111" stroke-width="0.2" transform="matrix(1 0 0 1.06 0 -10.608)">U937</text>
<line x1="259.6" y1="183.3" x2="302.8" y2="183.3" stroke="#111" stroke-width="1.4"/>
<text x="331.5" y="176.8" style='font-family:"Liberation Serif", serif' font-size="10.3" font-weight="bold" text-anchor="middle" fill="#111" stroke="#111" stroke-width="0.2" transform="matrix(1 0 0 1.06 0 -10.608)">MV4-11</text>
<line x1="310.6" y1="183.3" x2="353.9" y2="183.3" stroke="#111" stroke-width="1.4"/>
<text x="384" y="176.8" style='font-family:"Liberation Serif", serif' font-size="10.3" font-weight="bold" text-anchor="middle" fill="#111" stroke="#111" stroke-width="0.2" transform="matrix(1 0 0 1.06 0 -10.608)">HL-60</text>
<line x1="362.4" y1="183.3" x2="405.7" y2="183.3" stroke="#111" stroke-width="1.4"/>
<text x="267.1" y="221.7" style='font-family:"Liberation Serif", serif' font-size="10.5" font-weight="bold" text-anchor="start" fill="#111" stroke="#111" stroke-width="0.2" transform="rotate(-90 267.1 221.7)">C</text>
<text x="278.2" y="221.7" style='font-family:"Liberation Serif", serif' font-size="10.5" font-weight="bold" text-anchor="start" fill="#111" stroke="#111" stroke-width="0.2" transform="rotate(-90 278.2 221.7)">Sor</text>
<text x="288.9" y="221.7" style='font-family:"Liberation Serif", serif' font-size="10.5" font-weight="bold" text-anchor="start" fill="#111" stroke="#111" stroke-width="0.2" transform="rotate(-90 288.9 221.7)">Ob</text>
<text x="301.4" y="221.7" style='font-family:"Liberation Serif", serif' font-size="10.5" font-weight="bold" text-anchor="start" fill="#111" stroke="#111" stroke-width="0.2" transform="rotate(-90 301.4 221.7)">Sor/Ob</text>
<text x="315.6" y="222.6" style='font-family:"Liberation Serif", serif' font-size="10.5" font-weight="bold" text-anchor="start" fill="#111" stroke="#111" stroke-width="0.2" transform="rotate(-90 315.6 222.6)">C</text>
<text x="326.1" y="222.6" style='font-family:"Liberation Serif", serif' font-size="10.5" font-weight="bold" text-anchor="start" fill="#111" stroke="#111" stroke-width="0.2" transform="rotate(-90 326.1 222.6)">Sor</text>
<text x="337.8" y="222.6" style='font-family:"Liberation Serif", serif' font-size="10.5" font-weight="bold" text-anchor="start" fill="#111" stroke="#111" stroke-width="0.2" transform="rotate(-90 337.8 222.6)">Ob</text>
<text x="350.6" y="222.6" style='font-family:"Liberation Serif", serif' font-size="10.5" font-weight="bold" text-anchor="start" fill="#111" stroke="#111" stroke-width="0.2" transform="rotate(-90 350.6 222.6)">Sor/Ob</text>
<text x="369.5" y="222.6" style='font-family:"Liberation Serif", serif' font-size="10.5" font-weight="bold" text-anchor="start" fill="#111" stroke="#111" stroke-width="0.2" transform="rotate(-90 369.5 222.6)">C</text>
<text x="381.1" y="222.6" style='font-family:"Liberation Serif", serif' font-size="10.5" font-weight="bold" text-anchor="start" fill="#111" stroke="#111" stroke-width="0.2" transform="rotate(-90 381.1 222.6)">Sor</text>
<text x="392.7" y="222.6" style='font-family:"Liberation Serif", serif' font-size="10.5" font-weight="bold" text-anchor="start" fill="#111" stroke="#111" stroke-width="0.2" transform="rotate(-90 392.7 222.6)">Ob</text>
<text x="404.4" y="222.6" style='font-family:"Liberation Serif", serif' font-size="10.5" font-weight="bold" text-anchor="start" fill="#111" stroke="#111" stroke-width="0.2" transform="rotate(-90 404.4 222.6)">Sor/Ob</text>
<text x="254.0" y="237.0" style='font-family:"Liberation Serif", serif' font-size="10.5" font-weight="bold" text-anchor="end" fill="#111" stroke="#111" stroke-width="0.2" transform="matrix(1 0 0 1.06 0 -14.220)">Pro-casp-9</text>
<text x="252.2" y="252.3" style='font-family:"Liberation Serif", serif' font-size="10.3" font-weight="bold" text-anchor="end" fill="#111" stroke="#111" stroke-width="0.2" transform="matrix(1 0 0 1.06 0 -15.138)">c-casp-9</text>
<text x="254.0" y="272.0" style='font-family:"Liberation Serif", serif' font-size="10.5" font-weight="bold" text-anchor="end" fill="#111" stroke="#111" stroke-width="0.2" transform="matrix(1 0 0 1.06 0 -16.320)">Pro-casp-3</text>
<text x="252.6" y="286.2" style='font-family:"Liberation Serif", serif' font-size="10.4" font-weight="bold" text-anchor="end" fill="#111" stroke="#111" stroke-width="0.2" transform="matrix(1 0 0 1.06 0 -17.172)">c-casp-3</text>
<text x="253.7" y="304.0" style='font-family:"Liberation Serif", serif' font-size="10.7" font-weight="bold" text-anchor="end" fill="#111" stroke="#111" stroke-width="0.2" transform="matrix(1 0 0 1.06 0 -18.240)">PARP</text>
<text x="253.7" y="321.4" style='font-family:"Liberation Serif", serif' font-size="10.5" font-weight="bold" text-anchor="end" fill="#111" stroke="#111" stroke-width="0.2" transform="matrix(1 0 0 1.06 0 -19.284)">Tub</text>
<rect x="259.1" y="227.4" width="45.80" height="12.60" fill="#fcfcfc" stroke="#555" stroke-width="1.2"/>
<ellipse cx="265.15" cy="233.80" rx="4.15" ry="1.80" fill="#111" filter="url(#bl)"/>
<ellipse cx="276.90" cy="233.80" rx="3.90" ry="1.80" fill="#111" filter="url(#bl)"/>
<ellipse cx="288.45" cy="233.80" rx="4.25" ry="1.80" fill="#111" filter="url(#bl)"/>
<ellipse cx="299.35" cy="233.80" rx="3.65" ry="1.80" fill="#111" filter="url(#bl)"/>
<rect x="259.8" y="244.1" width="45.10" height="12.00" fill="#fcfcfc" stroke="#8a8a8a" stroke-width="1.0"/>
<ellipse cx="265.65" cy="251.45" rx="2.75" ry="0.95" fill="#eee" filter="url(#bl)"/>
<ellipse cx="276.25" cy="251.25" rx="4.25" ry="1.25" fill="#ccc" filter="url(#bl)"/>
<ellipse cx="286.50" cy="251.50" rx="3.50" ry="1.00" fill="#ddd" filter="url(#bl)"/>
<rect x="293.2" y="247.4" width="10.60" height="6.60" rx="2.6" fill="#0a0a0a" filter="url(#bl)"/>
<rect x="258.9" y="261.4" width="46.0" height="13.5" fill="#fcfcfc" stroke="#555" stroke-width="1.2"/>
<ellipse cx="264.55" cy="268.65" rx="4.05" ry="1.95" fill="#111" filter="url(#bl)"/>
<ellipse cx="275.15" cy="268.65" rx="4.15" ry="1.95" fill="#111" filter="url(#bl)"/>
<ellipse cx="286.60" cy="268.65" rx="4.60" ry="1.95" fill="#111" filter="url(#bl)"/>
<ellipse cx="297.85" cy="268.50" rx="3.95" ry="1.50" fill="#ddd" filter="url(#bl)"/>
<rect x="259.8" y="278.1" width="45.10" height="13.60" fill="#fcfcfc" stroke="#8a8a8a" stroke-width="1.0"/>
<ellipse cx="277.00" cy="286.90" rx="4.00" ry="0.90" fill="#ddd" filter="url(#bl)"/>
<ellipse cx="287.80" cy="287.80" rx="3.00" ry="0.80" fill="#999" filter="url(#bl)"/>
<rect x="295" y="281" width="8.60" height="3.40" rx="1.70" fill="#111" filter="url(#bl)"/>
<rect x="295" y="285.6" width="8.60" height="3.60" rx="1.80" fill="#111" filter="url(#bl)"/>
<rect x="258.9" y="295.0" width="45.40" height="13.20" fill="#fcfcfc" stroke="#555" stroke-width="1.2"/>
<rect x="261" y="298" width="7.40" height="2.50" rx="1.25" fill="#111" filter="url(#bl)"/>
<rect x="270.8" y="298" width="9.70" height="2.50" rx="1.25" fill="#111" filter="url(#bl)"/>
<rect x="283" y="298" width="8.20" height="2.50" rx="1.25" fill="#111" filter="url(#bl)"/>
<rect x="293.6" y="297.9" width="8.80" height="2.00" rx="1.00" fill="#777" filter="url(#bl)"/>
<rect x="293.6" y="297.7" width="2.90" height="2.40" rx="1.20" fill="#111" filter="url(#bl)"/>
<rect x="294" y="304.8" width="8.40" height="1.80" rx="0.90" fill="#555" filter="url(#bl)"/>
<rect x="259.8" y="312.0" width="45.10" height="13.0" fill="#fcfcfc" stroke="#8a8a8a" stroke-width="1.0"/>
<rect x="260.8" y="314.5" width="7.80" height="8.10" rx="3.90" fill="#0a0a0a" filter="url(#bl)"/>
<rect x="271" y="315" width="9.80" height="7.40" rx="3.70" fill="#0a0a0a" filter="url(#bl)"/>
<rect x="283.2" y="315" width="8.30" height="7.40" rx="3.70" fill="#0a0a0a" filter="url(#bl)"/>
<rect x="294" y="316.3" width="9.60" height="5.10" rx="2.55" fill="#0a0a0a" filter="url(#bl)"/>
<rect x="307.8" y="227.1" width="49.40" height="12.0" fill="#fcfcfc" stroke="#555" stroke-width="1.2"/>
<ellipse cx="313.60" cy="233.30" rx="4.60" ry="2.30" fill="#111" filter="url(#bl)"/>
<ellipse cx="326.50" cy="233.30" rx="4.70" ry="2.30" fill="#111" filter="url(#bl)"/>
<ellipse cx="339.00" cy="233.30" rx="4.70" ry="2.30" fill="#111" filter="url(#bl)"/>
<ellipse cx="351.75" cy="233.30" rx="4.75" ry="2.30" fill="#111" filter="url(#bl)"/>
<rect x="308.1" y="243.8" width="49.10" height="12.30" fill="#fcfcfc" stroke="#8a8a8a" stroke-width="1.0"/>
<ellipse cx="339.50" cy="251.30" rx="2.50" ry="1.10" fill="#bbb" filter="url(#bl)"/>
<ellipse cx="351.55" cy="250.95" rx="4.25" ry="1.65" fill="#111" filter="url(#bl)"/>
<rect x="307.8" y="261.1" width="50.30" height="13.60" fill="#fcfcfc" stroke="#555" stroke-width="1.2"/>
<rect x="309.7" y="265" width="9.70" height="6.20" rx="3.10" fill="#0a0a0a" filter="url(#bl)"/>
<rect x="321.8" y="265" width="9.80" height="6.20" rx="3.10" fill="#0a0a0a" filter="url(#bl)"/>
<rect x="334" y="265" width="9.70" height="6.20" rx="3.10" fill="#0a0a0a" filter="url(#bl)"/>
<rect x="346.7" y="266" width="9.80" height="3.20" rx="1.60" fill="#0a0a0a" filter="url(#bl)"/>
<rect x="308.1" y="277.8" width="48.80" height="13.90" fill="#fcfcfc" stroke="#8a8a8a" stroke-width="1.0"/>
<ellipse cx="327.30" cy="284.85" rx="2.40" ry="1.55" fill="#bbb" filter="url(#bl2)"/>
<ellipse cx="339.50" cy="284.85" rx="2.50" ry="1.55" fill="#999" filter="url(#bl2)"/>
<ellipse cx="351.25" cy="285.30" rx="3.95" ry="2.00" fill="#111" filter="url(#bl)"/>
<rect x="308.1" y="295.0" width="50.0" height="12.90" fill="#fcfcfc" stroke="#555" stroke-width="1.2"/>
<rect x="310" y="297.7" width="8.80" height="2.30" rx="1.15" fill="#111" filter="url(#bl)"/>
<rect x="323" y="297.7" width="8.90" height="2.30" rx="1.15" fill="#111" filter="url(#bl)"/>
<rect x="335.8" y="297.7" width="8.20" height="2.30" rx="1.15" fill="#111" filter="url(#bl)"/>
<rect x="348.6" y="297.7" width="7.60" height="2.30" rx="1.15" fill="#111" filter="url(#bl)"/>
<rect x="348.9" y="304.2" width="7.30" height="1.80" rx="0.90" fill="#222" filter="url(#bl)"/>
<rect x="323" y="304.5" width="8.00" height="1.00" rx="0.50" fill="#e4e4e4" filter="url(#bl)"/>
<rect x="335.8" y="304.5" width="7.20" height="1.00" rx="0.50" fill="#e8e8e8" filter="url(#bl)"/>
<rect x="308.1" y="312.0" width="49.10" height="13.0" fill="#fcfcfc" stroke="#8a8a8a" stroke-width="1.0"/>
<rect x="309.7" y="316.3" width="8.50" height="6.10" rx="3.05" fill="#0a0a0a" filter="url(#bl)"/>
<rect x="321.8" y="316.3" width="9.80" height="6.10" rx="3.05" fill="#0a0a0a" filter="url(#bl)"/>
<rect x="334.8" y="316.3" width="8.90" height="6.10" rx="3.05" fill="#0a0a0a" filter="url(#bl)"/>
<rect x="347.7" y="316.3" width="7.50" height="6.10" rx="3.05" fill="#0a0a0a" filter="url(#bl)"/>
<rect x="362.1" y="227.4" width="45.40" height="12.60" fill="#fcfcfc" stroke="#555" stroke-width="1.2"/>
<ellipse cx="367.65" cy="234.00" rx="3.95" ry="2.00" fill="#111" filter="url(#bl)"/>
<ellipse cx="379.35" cy="234.00" rx="4.15" ry="2.00" fill="#111" filter="url(#bl)"/>
<ellipse cx="390.75" cy="234.00" rx="3.95" ry="2.00" fill="#111" filter="url(#bl)"/>
<ellipse cx="402.25" cy="234.00" rx="3.95" ry="2.00" fill="#111" filter="url(#bl)"/>
<rect x="362.6" y="243.8" width="43.90" height="12.30" fill="#f0f0f0" stroke="#8a8a8a" stroke-width="1.0"/>
<ellipse cx="401.15" cy="250.10" rx="3.45" ry="2.10" fill="#111" filter="url(#bl)"/>
<rect x="362.6" y="260.8" width="44.30" height="13.90" fill="#fcfcfc" stroke="#555" stroke-width="1.2"/>
<rect x="364.9" y="265.7" width="7.90" height="5.50" rx="2.75" fill="#0a0a0a" filter="url(#bl)"/>
<rect x="375" y="265" width="9.00" height="5.60" rx="2.80" fill="#0a0a0a" filter="url(#bl)"/>
<rect x="386.8" y="265.5" width="7.60" height="3.90" rx="1.95" fill="#0a0a0a" filter="url(#bl)"/>
<ellipse cx="401.35" cy="267.25" rx="3.05" ry="1.55" fill="#ddd" filter="url(#bl2)"/>
<rect x="363.0" y="277.8" width="43.5" height="13.90" fill="#fcfcfc" stroke="#8a8a8a" stroke-width="1.0"/>
<ellipse cx="367.95" cy="283.95" rx="3.05" ry="1.25" fill="#eee" filter="url(#bl2)"/>
<ellipse cx="379.75" cy="285.30" rx="3.35" ry="2.30" fill="#111" filter="url(#bl)"/>
<ellipse cx="390.70" cy="282.35" rx="2.70" ry="1.35" fill="#ccc" filter="url(#bl2)"/>
<rect x="397.7" y="281" width="7.30" height="6.30" rx="3.15" fill="#0a0a0a" filter="url(#bl)"/>
<rect x="363.0" y="295.3" width="44.30" height="13.90" fill="#fcfcfc" stroke="#555" stroke-width="1.2"/>
<rect x="364.9" y="299.3" width="8.50" height="2.50" rx="1.25" fill="#111" filter="url(#bl)"/>
<rect x="375.2" y="298.5" width="8.80" height="3.30" rx="1.65" fill="#111" filter="url(#bl)"/>
<rect x="385.5" y="299.7" width="8.50" height="2.10" rx="1.05" fill="#111" filter="url(#bl)"/>
<rect x="396.8" y="298" width="8.20" height="3.40" rx="1.70" fill="#111" filter="url(#bl)"/>
<rect x="376.4" y="304.5" width="6.70" height="1.50" rx="0.75" fill="#333" filter="url(#bl)"/>
<rect x="397" y="304.2" width="8.00" height="2.40" rx="1.20" fill="#111" filter="url(#bl)"/>
<rect x="363.0" y="311.6" width="43.90" height="13.90" fill="#fcfcfc" stroke="#8a8a8a" stroke-width="1.0"/>
<ellipse cx="368.70" cy="318.45" rx="4.70" ry="3.35" fill="#0a0a0a" filter="url(#bl)"/>
<ellipse cx="379.60" cy="318.15" rx="4.40" ry="3.05" fill="#0a0a0a" filter="url(#bl)"/>
<ellipse cx="390.30" cy="318.75" rx="4.40" ry="4.25" fill="#0a0a0a" filter="url(#bl)"/>
<ellipse cx="401.20" cy="319.15" rx="4.20" ry="2.85" fill="#0a0a0a" filter="url(#bl)"/>
<text x="414.2" y="174.3" style='font-family:"Liberation Sans", sans-serif' font-size="11.2" font-weight="bold" text-anchor="start" fill="#111" transform="matrix(1 0 0 1.06 0 -10.458)">H</text>
<line x1="451.9" y1="180.9" x2="451.9" y2="285.3" stroke="#555" stroke-width="1.0"/>
<line x1="450.4" y1="180.64" x2="453.0" y2="180.64" stroke="#555" stroke-width="0.9"/>
<text x="448.3" y="188.4" style='font-family:"Liberation Serif", serif' font-size="10.3" text-anchor="end" fill="#111" stroke="#111" stroke-width="0.25">120</text>
<line x1="450.4" y1="198.0" x2="453.0" y2="198.0" stroke="#555" stroke-width="0.9"/>
<text x="448.3" y="206.1" style='font-family:"Liberation Serif", serif' font-size="10.3" text-anchor="end" fill="#111" stroke="#111" stroke-width="0.25">100</text>
<line x1="450.4" y1="215.36" x2="453.0" y2="215.36" stroke="#555" stroke-width="0.9"/>
<text x="448.3" y="223.1" style='font-family:"Liberation Serif", serif' font-size="10.3" text-anchor="end" fill="#111" stroke="#111" stroke-width="0.25">80</text>
<line x1="450.4" y1="232.72" x2="453.0" y2="232.72" stroke="#555" stroke-width="0.9"/>
<text x="448.3" y="240.6" style='font-family:"Liberation Serif", serif' font-size="10.3" text-anchor="end" fill="#111" stroke="#111" stroke-width="0.25">60</text>
<line x1="450.4" y1="250.08" x2="453.0" y2="250.08" stroke="#555" stroke-width="0.9"/>
<text x="448.3" y="258.8" style='font-family:"Liberation Serif", serif' font-size="10.3" text-anchor="end" fill="#111" stroke="#111" stroke-width="0.25">40</text>
<line x1="450.4" y1="267.44" x2="453.0" y2="267.44" stroke="#555" stroke-width="0.9"/>
<text x="448.3" y="273.8" style='font-family:"Liberation Serif", serif' font-size="10.3" text-anchor="end" fill="#111" stroke="#111" stroke-width="0.25">20</text>
<line x1="450.4" y1="284.8" x2="453.0" y2="284.8" stroke="#555" stroke-width="0.9"/>
<text x="448.3" y="290.0" style='font-family:"Liberation Serif", serif' font-size="10.3" text-anchor="end" fill="#111" stroke="#111" stroke-width="0.25">0</text>
<line x1="451.4" y1="285.0" x2="517.8" y2="285.0" stroke="#1a1a1a" stroke-width="1.3"/>
<text x="428.7" y="235.7" style='font-family:"Liberation Serif", serif' font-size="12.1" font-weight="bold" text-anchor="middle" fill="#111" stroke="#111" stroke-width="0.2" transform="rotate(-90 428.7 235.7)">CFU (% control)</text>
<rect x="456.8" y="198.0" width="6.5" height="86.80" fill="#7f7f7f" stroke="#444" stroke-width="0.8"/>
<rect x="473" y="224.04" width="6.5" height="60.76" fill="#7f7f7f" stroke="#444" stroke-width="0.8"/>
<line x1="476.25" y1="222.304" x2="476.25" y2="224.04" stroke="#333" stroke-width="0.9"/>
<line x1="475.05" y1="222.304" x2="477.45" y2="222.304" stroke="#333" stroke-width="0.9"/>
<line x1="475.05" y1="224.04" x2="477.45" y2="224.04" stroke="#333" stroke-width="0.9"/>
<rect x="489.2" y="212.76" width="6.5" height="72.04" fill="#7f7f7f" stroke="#444" stroke-width="0.8"/>
<line x1="492.45" y1="211.454" x2="492.45" y2="212.76" stroke="#333" stroke-width="0.9"/>
<line x1="491.25" y1="211.454" x2="493.65" y2="211.454" stroke="#333" stroke-width="0.9"/>
<line x1="491.25" y1="212.76" x2="493.65" y2="212.76" stroke="#333" stroke-width="0.9"/>
<rect x="506" y="259.628" width="6.5" height="25.17" fill="#7f7f7f" stroke="#444" stroke-width="0.8"/>
<line x1="509.25" y1="257.024" x2="509.25" y2="259.628" stroke="#333" stroke-width="0.9"/>
<line x1="508.05" y1="257.024" x2="510.45" y2="257.024" stroke="#333" stroke-width="0.9"/>
<line x1="508.05" y1="259.628" x2="510.45" y2="259.628" stroke="#333" stroke-width="0.9"/>
<path d="M509.70,247.55L509.70,252.05M507.30,248.68L512.10,250.92M512.10,248.68L507.30,250.92" stroke="#444" stroke-width="0.95" fill="none"/>
<text x="460.2" y="303.5" style='font-family:"Liberation Serif", serif' font-size="11.6" font-weight="bold" text-anchor="middle" fill="#111" stroke="#111" stroke-width="0.2" transform="matrix(1 0 0 1.06 0 -18.210)">C</text>
<text x="480.4" y="293.2" style='font-family:"Liberation Serif", serif' font-size="10.4" font-weight="bold" text-anchor="end" fill="#111" stroke="#111" stroke-width="0.2" transform="rotate(-90 480.4 293.2)">Sor</text>
<text x="497.3" y="293.2" style='font-family:"Liberation Serif", serif' font-size="10.6" font-weight="bold" text-anchor="end" fill="#111" stroke="#111" stroke-width="0.2" transform="rotate(-90 497.3 293.2)">Ob</text>
<text x="514.0" y="293.2" style='font-family:"Liberation Serif", serif' font-size="10.4" font-weight="bold" text-anchor="end" fill="#111" stroke="#111" stroke-width="0.2" transform="rotate(-90 514.0 293.2)">Sor/Ob</text>
</svg>
</body></html>
